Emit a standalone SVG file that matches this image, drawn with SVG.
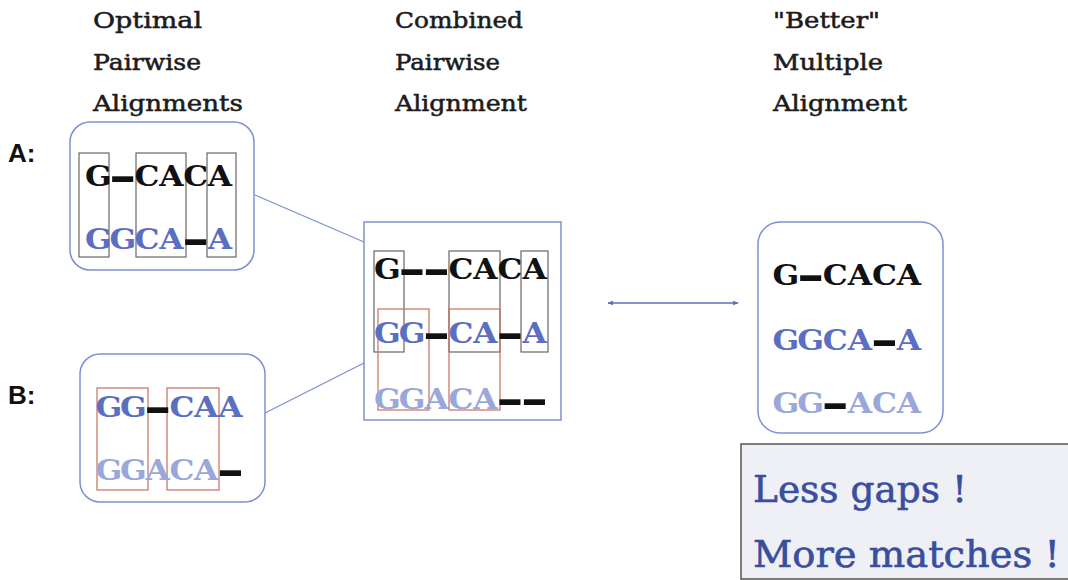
<svg xmlns="http://www.w3.org/2000/svg" width="1068" height="580" viewBox="0 0 1068 580">
  <defs>
    <marker id="tip" viewBox="0 0 10 10" refX="9" refY="5" markerWidth="6" markerHeight="6" markerUnits="userSpaceOnUse" orient="auto-start-reverse">
      <path d="M0,1 L10,5 L0,9 Z" fill="#5b6fc0"/>
    </marker>
  </defs>
  <style>
    .head { font-family: "DejaVu Serif", "Liberation Serif", serif; font-size: 23px; fill: #1c1c1c; stroke: #1c1c1c; stroke-width: 0.55px; }
    .tag { font-family: "Liberation Sans", Arial, sans-serif; font-weight: bold; font-size: 26px; fill: #111; }
    .seq { font-family: "DejaVu Serif", "Liberation Serif", serif; font-weight: bold; font-size: 28px; text-anchor: middle; }
    .s1 { fill: #111; }
    .s2 { fill: #5a6ec2; }
    .s3 { fill: #9aa7da; }
    .gap { fill: #111; font-size: 48px; }
    .frame { fill: #fff; stroke: #7f90d0; stroke-width: 1.5; }
    .col { fill: none; stroke: #6e6663; stroke-width: 1.2; }
    .colr { fill: none; stroke: #c9705a; stroke-width: 1.2; }
    .link { stroke: #7d8ed0; stroke-width: 1.2; fill: none; }
    .note { font-family: "DejaVu Serif", "Liberation Serif", serif; font-size: 37px; fill: #3a4e9e; stroke: #3a4e9e; stroke-width: 0.6px; }
  </style>

  <!-- column headings -->
  <g id="headings">
    <text class="head" x="93" y="28" textLength="109" lengthAdjust="spacingAndGlyphs">Optimal</text>
    <text class="head" x="93" y="70" textLength="108" lengthAdjust="spacingAndGlyphs">Pairwise</text>
    <text class="head" x="93" y="111" textLength="150" lengthAdjust="spacingAndGlyphs">Alignments</text>
    <text class="head" x="395" y="28" textLength="128" lengthAdjust="spacingAndGlyphs">Combined</text>
    <text class="head" x="395" y="70" textLength="105" lengthAdjust="spacingAndGlyphs">Pairwise</text>
    <text class="head" x="395" y="111" textLength="132" lengthAdjust="spacingAndGlyphs">Alignment</text>
    <text class="head" x="773" y="28" textLength="107" lengthAdjust="spacingAndGlyphs">"Better"</text>
    <text class="head" x="773" y="70" textLength="110" lengthAdjust="spacingAndGlyphs">Multiple</text>
    <text class="head" x="773" y="111" textLength="134" lengthAdjust="spacingAndGlyphs">Alignment</text>
  </g>

  <!-- connectors -->
  <g id="connectors">
    <line class="link" x1="255" y1="195" x2="364" y2="242"/>
    <line class="link" x1="265" y1="413" x2="364" y2="363"/>
    <line stroke="#5b6fc0" stroke-width="1.5" x1="608" y1="303" x2="738" y2="303" marker-start="url(#tip)" marker-end="url(#tip)"/>
  </g>

  <!-- pairwise alignment A (rows widened 1.12x about the first column) -->
  <g id="alignA">
    <text class="tag" x="8" y="162">A:</text>
    <rect class="frame" x="70" y="122" width="184" height="148" rx="20"/>
    <rect class="col" x="79" y="153" width="30" height="104"/>
    <rect class="col" x="136" y="153" width="50" height="104"/>
    <rect class="col" x="207" y="153" width="29" height="104"/>
    <g transform="translate(98.5 186) scale(1.12 1)">
      <text class="seq s1" y="0"><tspan x="0">G</tspan><tspan class="gap" x="21.7" y="6">–</tspan><tspan x="43.4" y="0">C</tspan><tspan x="65.1">A</tspan><tspan x="86.8">C</tspan><tspan x="108.5">A</tspan></text>
    </g>
    <g transform="translate(98.5 249) scale(1.12 1)">
      <text class="seq s2" y="0"><tspan x="0">G</tspan><tspan x="21.7">G</tspan><tspan x="43.4">C</tspan><tspan x="65.1">A</tspan><tspan class="gap" x="86.8" y="6">–</tspan><tspan x="108.5" y="0">A</tspan></text>
    </g>
  </g>

  <!-- pairwise alignment B -->
  <g id="alignB">
    <text class="tag" x="8" y="404">B:</text>
    <rect class="frame" x="80" y="354" width="185" height="148" rx="20"/>
    <rect class="colr" x="97" y="388" width="51" height="102"/>
    <rect class="colr" x="167" y="388" width="52" height="102"/>
    <g transform="translate(109 417) scale(1.12 1)">
      <text class="seq s2" y="0"><tspan x="0">G</tspan><tspan x="21.7">G</tspan><tspan class="gap" x="43.4" y="6">–</tspan><tspan x="65.1" y="0">C</tspan><tspan x="86.8">A</tspan><tspan x="108.5">A</tspan></text>
    </g>
    <g transform="translate(109 480) scale(1.12 1)">
      <text class="seq s3" y="0"><tspan x="0">G</tspan><tspan x="21.7">G</tspan><tspan x="43.4">A</tspan><tspan x="65.1">C</tspan><tspan x="86.8">A</tspan><tspan class="gap" x="108.5" y="6">–</tspan></text>
    </g>
  </g>

  <!-- combined pairwise alignment -->
  <g id="combined">
    <rect class="frame" x="364" y="222" width="197" height="198"/>
    <rect class="col" x="374" y="251" width="30" height="101"/>
    <rect class="col" x="449" y="251" width="51" height="101"/>
    <rect class="col" x="521" y="251" width="27" height="101"/>
    <rect class="colr" x="378" y="309" width="51" height="101"/>
    <rect class="colr" x="449" y="309" width="51" height="101"/>
    <g transform="translate(387.5 279) scale(1.12 1)">
      <text class="seq s1" y="0"><tspan x="0">G</tspan><tspan class="gap" x="21.9" y="6">–</tspan><tspan class="gap" x="43.8">–</tspan><tspan x="65.6" y="0">C</tspan><tspan x="87.5">A</tspan><tspan x="109.4">C</tspan><tspan x="131.3">A</tspan></text>
    </g>
    <g transform="translate(387.5 343) scale(1.12 1)">
      <text class="seq s2" y="0"><tspan x="0">G</tspan><tspan x="21.9">G</tspan><tspan class="gap" x="43.8" y="6">–</tspan><tspan x="65.6" y="0">C</tspan><tspan x="87.5">A</tspan><tspan class="gap" x="109.4" y="6">–</tspan><tspan x="131.3" y="0">A</tspan></text>
    </g>
    <g transform="translate(387.5 409) scale(1.12 1)">
      <text class="seq s3" y="0"><tspan x="0">G</tspan><tspan x="21.9">G</tspan><tspan x="43.8">A</tspan><tspan x="65.6">C</tspan><tspan x="87.5">A</tspan><tspan class="gap" x="109.4" y="6">–</tspan><tspan class="gap" x="131.3">–</tspan></text>
    </g>
  </g>

  <!-- better multiple alignment -->
  <g id="multiple">
    <rect class="frame" x="758" y="222" width="185" height="211" rx="22"/>
    <g transform="translate(786 285) scale(1.12 1)">
      <text class="seq s1" y="0"><tspan x="0">G</tspan><tspan class="gap" x="22" y="6">–</tspan><tspan x="43.9" y="0">C</tspan><tspan x="65.9">A</tspan><tspan x="87.9">C</tspan><tspan x="109.8">A</tspan></text>
    </g>
    <g transform="translate(786 350) scale(1.12 1)">
      <text class="seq s2" y="0"><tspan x="0">G</tspan><tspan x="22">G</tspan><tspan x="43.9">C</tspan><tspan x="65.9">A</tspan><tspan class="gap" x="87.9" y="6">–</tspan><tspan x="109.8" y="0">A</tspan></text>
    </g>
    <g transform="translate(786 413) scale(1.12 1)">
      <text class="seq s3" y="0"><tspan x="0">G</tspan><tspan x="22">G</tspan><tspan class="gap" x="43.9" y="6">–</tspan><tspan x="65.9" y="0">A</tspan><tspan x="87.9">C</tspan><tspan x="109.8">A</tspan></text>
    </g>
  </g>

  <!-- summary panel -->
  <g id="summary">
    <rect x="741" y="444" width="400" height="135" fill="#eef0f6" stroke="#555" stroke-width="1.5"/>
    <text class="note" x="753" y="502" textLength="214" lengthAdjust="spacingAndGlyphs">Less gaps !</text>
    <text class="note" x="753" y="567" textLength="307" lengthAdjust="spacingAndGlyphs">More matches !</text>
  </g>
</svg>
